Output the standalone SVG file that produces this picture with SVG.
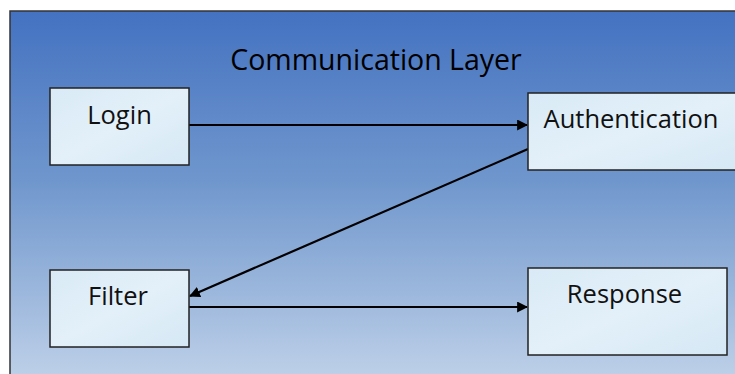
<svg xmlns="http://www.w3.org/2000/svg" width="735" height="374" viewBox="0 0 735 374">
  <defs>
    <linearGradient id="bg" x1="0" y1="0" x2="0" y2="1">
      <stop offset="0" stop-color="#4472c1"/>
      <stop offset="0.45" stop-color="#7097cd"/>
      <stop offset="1" stop-color="#c3d4ea"/>
    </linearGradient>
    <linearGradient id="boxfill" x1="0" y1="0" x2="1" y2="1">
      <stop offset="0" stop-color="#d9eaf6"/>
      <stop offset="0.5" stop-color="#e3f0f9"/>
      <stop offset="1" stop-color="#d5e8f5"/>
    </linearGradient>
    <marker id="arrow" viewBox="0 0 10 10" refX="9" refY="5" markerWidth="5" markerHeight="5" orient="auto" markerUnits="strokeWidth">
      <path d="M0,0 L10,5 L0,10 Z" fill="#000"/>
    </marker>
  </defs>
  <style>
    .box { fill: url(#boxfill); stroke: #222; stroke-width: 1.5; }
    .label { font-family: "Open Sans", Lato, "Liberation Sans", sans-serif; font-size: 25.5px; fill: #111; text-anchor: middle; }
    .title { font-family: "Open Sans", Lato, "Liberation Sans", sans-serif; font-size: 28.5px; fill: #000; text-anchor: middle; }
    .conn { stroke: #000; stroke-width: 2.2; fill: none; marker-end: url(#arrow); }
  </style>

  <rect width="735" height="374" fill="#ffffff"/>
  <!-- layer frame -->
  <g id="layer">
    <rect x="10" y="11" width="740" height="380" fill="url(#bg)" stroke="#333" stroke-width="1.5"/>
    <text class="title" x="376" y="70">Communication Layer</text>
  </g>

  <g id="connectors">
    <line class="conn" x1="189" y1="125" x2="527" y2="125"/>
    <line class="conn" x1="528" y1="149" x2="190" y2="296"/>
    <line class="conn" x1="189" y1="307" x2="527" y2="307"/>
  </g>

  <g id="login">
    <rect class="box" x="50" y="88" width="139" height="77"/>
    <text class="label" x="119.5" y="124">Login</text>
  </g>
  <g id="authentication">
    <rect class="box" x="528" y="93" width="220" height="77"/>
    <text class="label" x="631" y="128">Authentication</text>
  </g>
  <g id="filter">
    <rect class="box" x="50" y="270" width="139" height="77"/>
    <text class="label" x="118" y="305">Filter</text>
  </g>
  <g id="response">
    <rect class="box" x="528" y="268" width="199" height="87"/>
    <text class="label" x="624.5" y="303">Response</text>
  </g>
</svg>
